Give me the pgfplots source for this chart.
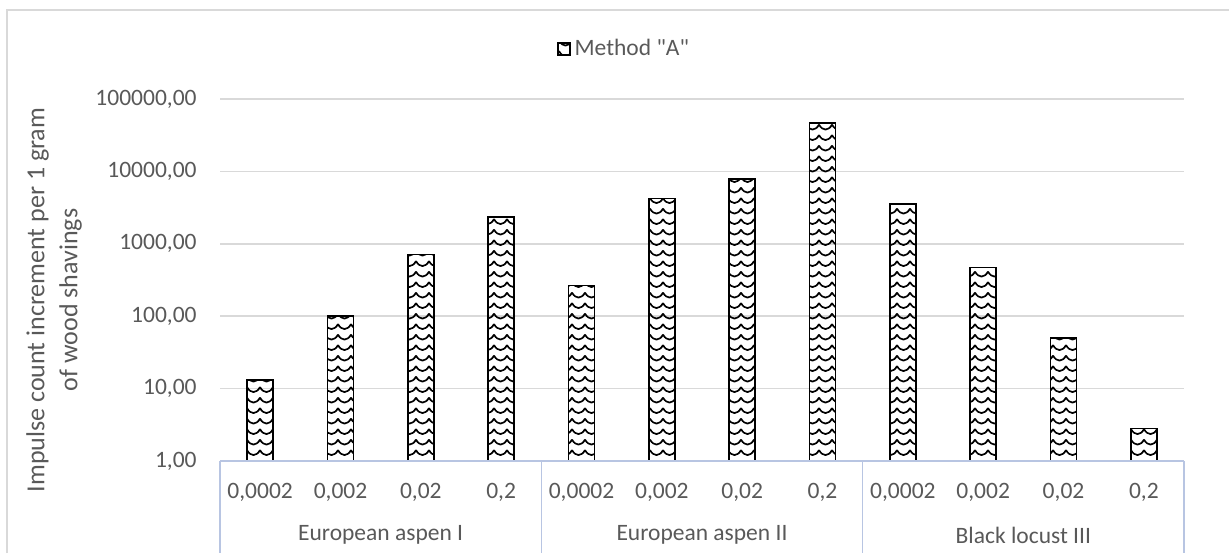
\documentclass[border=0pt]{standalone}
\usepackage{fontspec}
\setmainfont{Carlito}
\usepackage{pgfplots}
\pgfplotsset{compat=1.18}
\usetikzlibrary{patterns}
\definecolor{txt}{HTML}{595959}
\definecolor{gridc}{HTML}{D9D9D9}
\definecolor{catc}{HTML}{B8C5E2}
\newcommand{\dq}{\XeTeXglyph\XeTeXcharglyph"22\relax}
\pgfdeclarepatternformonly{excelwave}{\pgfpoint{-1pt}{-1pt}}{\pgfpoint{7.5pt}{6.25pt}}{\pgfpoint{6.5pt}{5.25pt}}{%
  \pgfsetlinewidth{0.85pt}%
  \pgfpathmoveto{\pgfpoint{0pt}{4.2pt}}%
  \pgfpathcurveto{\pgfpoint{1.8pt}{0.9pt}}{\pgfpoint{4.7pt}{0.9pt}}{\pgfpoint{6.5pt}{4.2pt}}%
  \pgfusepath{stroke}%
}
\pgfplotstableread{
x y
0 13.1
1 101
2 708
3 2340
4 266
5 4200
6 7870
7 46300
8 3550
9 472
10 50
11 2.8
}\datatab
\begin{document}
\begin{tikzpicture}
\path[use as bounding box] (0,0) rectangle (614.5pt,276.5pt);
\draw[gridc, line width=0.7pt] (3.5pt,0) -- (3.5pt,271.5pt) -- (614.5pt,271.5pt);
\begin{axis}[
  at={(110pt,46pt)}, anchor=south west,
  scale only axis, width=482pt, height=181pt,
  ymode=log, log basis y=10, ymin=1, ymax=100000,
  xmin=-0.5, xmax=11.5,
  ybar, bar width=13pt,
  axis line style={draw=none},
  major tick length=0pt, minor tick num=0,
  ytick={1,10,100,1000,10000,100000},
  yticklabels={{1,00},{10,00},{100,00},{1000,00},{10000,00},{100000,00}},
  yminorticks=false,
  xtick={0,1,2,3,4,5,6,7,8,9,10,11},
  xticklabels={{0,0002},{0,002},{0,02},{0,2},{0,0002},{0,002},{0,02},{0,2},{0,0002},{0,002},{0,02},{0,2}},
  ymajorgrids, grid style={draw=gridc, line width=0.75pt},
  tick label style={font=\fontsize{11.75}{14}\selectfont, text=txt},
  yticklabel style={anchor=east, inner sep=0pt, xshift=-11.5pt},
  xticklabel style={anchor=center, inner sep=0pt, yshift=-15.5pt},
  every axis y label/.style={at={(axis description cs:-0.1722,0.4448)}, rotate=90, anchor=center, align=center, font=\fontsize{13}{16.5}\selectfont, text=txt},
  ylabel={Impulse count increment per 1 gram\\of wood shavings},
  legend style={at={(axis description cs:0.42,1.138)}, anchor=center, draw=none, fill=none, font=\fontsize{11.75}{14}\selectfont, text=txt, inner sep=0pt},
  legend image code/.code={\draw[#1, line width=0.9pt] (0pt,-3pt) rectangle (6pt,3pt);},
]
\addplot[draw=black, line width=0.8pt, pattern=excelwave, pattern color=black] table[x=x, y=y] {\datatab};
\addlegendentry{Method \dq A\dq}
\end{axis}
\draw[catc, line width=0.7pt] (110pt,46pt) -- (592pt,46pt);
\foreach \xx in {110, 270.67, 431.33, 592} {
  \draw[catc, line width=0.7pt] (\xx pt,46pt) -- (\xx pt,0pt);
}
\node[text=txt, font=\fontsize{11.75}{14}\selectfont] at (190.33pt,9pt) {European aspen I};
\node[text=txt, font=\fontsize{11.75}{14}\selectfont] at (351pt,9pt) {European aspen II};
\node[text=txt, font=\fontsize{11.75}{14}\selectfont] at (511.67pt,9pt) {Black locust III};
\end{tikzpicture}
\end{document}
